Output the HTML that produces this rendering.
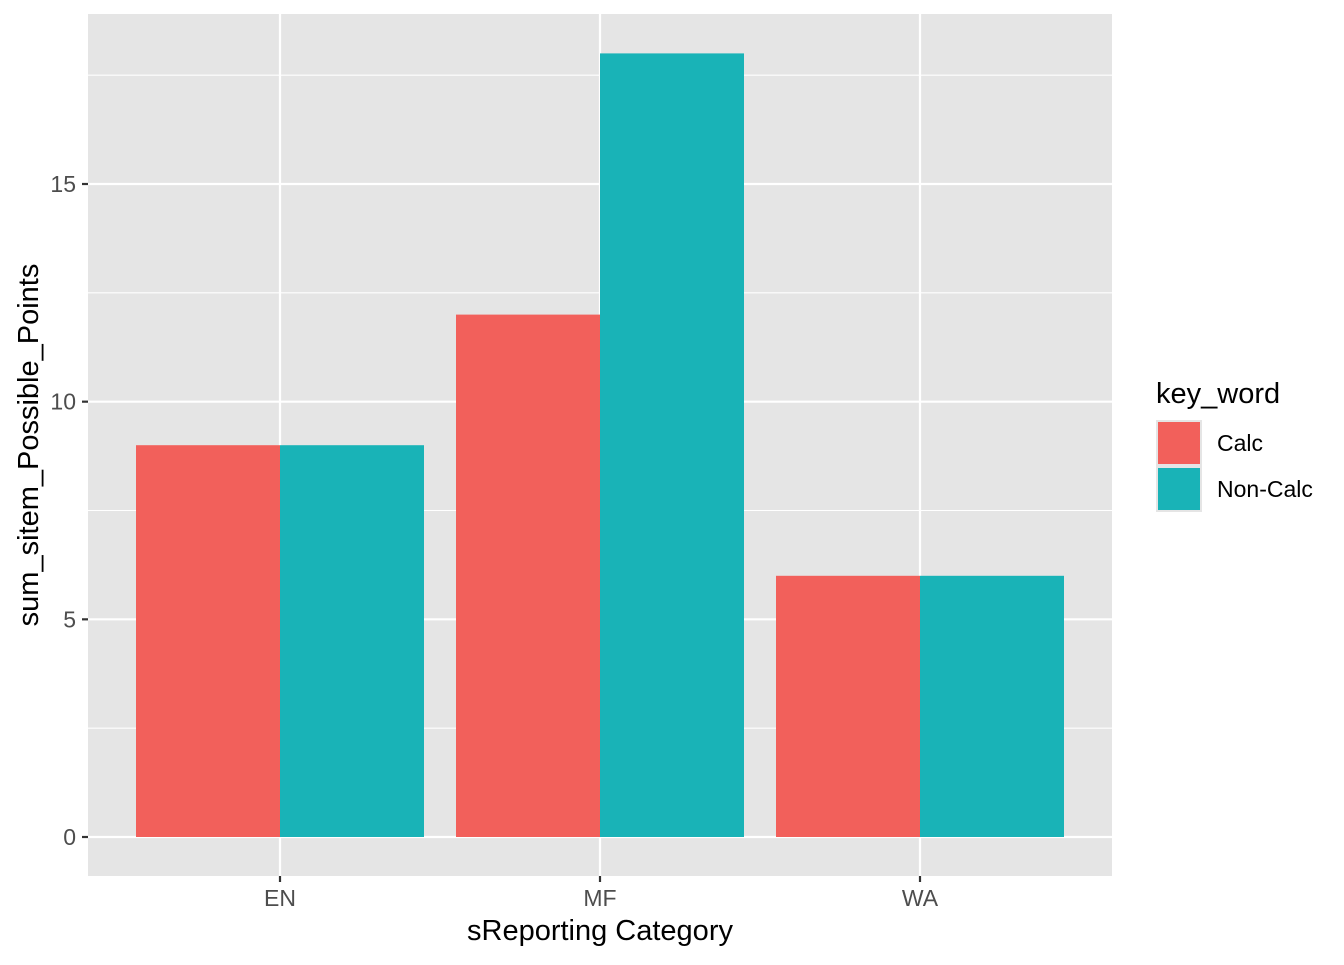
<!DOCTYPE html>
<html><head><meta charset="utf-8"><style>
body{margin:0;background:#fff}
svg text{font-family:"Liberation Sans",Arial,sans-serif}
</style></head><body>
<svg id="chart" width="1344" height="960" xmlns="http://www.w3.org/2000/svg"></svg>
<script>
const categories=["EN","MF","WA"];
const calcValues=[9,12,6];
const nonCalcValues=[9,18,6];
const yTicks=[0,5,10,15];
const yMinor=[2.5,7.5,12.5,17.5];
const seriesNames=["Calc","Non-Calc"];
const colors=["#F2605B","#19B3B7"];
const ns="http://www.w3.org/2000/svg";
const svg=document.getElementById('chart');
const L=88,R=1112,T=14,B=876;
const y=v=>837-v*(837-184)/15;
const x=i=>L+(i+1-0.4)*320;
function el(tag,attrs,parent){const e=document.createElementNS(ns,tag);for(const k in attrs)e.setAttribute(k,attrs[k]);(parent||svg).appendChild(e);return e;}
const panel=el('rect',{x:L,y:T,width:R-L,height:B-T,fill:'#E5E5E5'});


yMinor.forEach(v=>{const g=el('line',{x1:L,x2:R,y1:y(v),y2:y(v),stroke:'#fff','stroke-width':1.1});

});
yTicks.forEach(v=>{const g=el('line',{x1:L,x2:R,y1:y(v),y2:y(v),stroke:'#fff','stroke-width':2.2});


const t=el('line',{x1:82,x2:88,y1:y(v),y2:y(v),stroke:'#333','stroke-width':2.2});


const tx=el('text',{x:76,y:y(v)+8,'text-anchor':'end','font-size':23,fill:'#4D4D4D'});tx.textContent=v;

});
categories.forEach((c,i)=>{const g=el('line',{x1:x(i),x2:x(i),y1:T,y2:B,stroke:'#fff','stroke-width':2.2});


const t=el('line',{x1:x(i),x2:x(i),y1:B,y2:B+6,stroke:'#333','stroke-width':2.2});


const tx=el('text',{x:x(i),y:906,'text-anchor':'middle','font-size':23,fill:'#4D4D4D'});tx.textContent=c;

});
[calcValues,nonCalcValues].forEach((vals,s)=>{vals.forEach((v,i)=>{
const bx=s===0?x(i)-144:x(i);
const r=el('rect',{x:bx,y:y(v),width:144,height:y(0)-y(v),fill:colors[s]});

});});
const xt=el('text',{x:600,y:940,'text-anchor':'middle','font-size':29,fill:'#000'});xt.textContent='sReporting Category';


const yt=el('text',{x:0,y:0,transform:'translate(38,445) rotate(-90)','text-anchor':'middle','font-size':29,fill:'#000'});yt.textContent='sum_sitem_Possible_Points';


const lt=el('text',{x:1156,y:403,'font-size':29,fill:'#000'});lt.textContent='key_word';


seriesNames.forEach((n,s)=>{const ky=420+s*46;
const bg=el('rect',{x:1156,y:ky,width:46,height:46,fill:'#E5E5E5'});


const k=el('rect',{x:1158,y:ky+2,width:42,height:42,fill:colors[s]});


const t=el('text',{x:1217,y:ky+31,'font-size':23,fill:'#000'});t.textContent=n;

});
</script>
</body></html>
